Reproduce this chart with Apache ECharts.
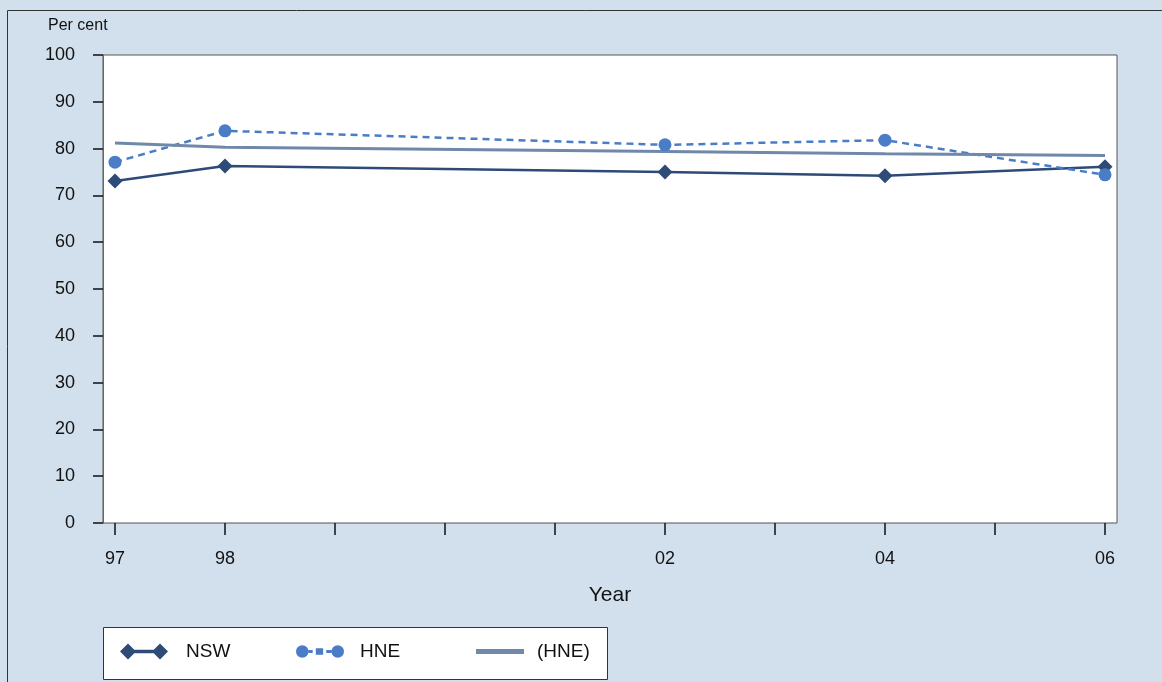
<!DOCTYPE html>
<html><head><meta charset="utf-8">
<script src="https://cdn.jsdelivr.net/npm/echarts@6/dist/echarts.min.js"></script>
<style>html,body{margin:0;padding:0;background:#d2dfec;}#c{width:1162px;height:682px;}</style>
</head><body><div id="c"></div>
<script>
const years = [1997, 1998, 2002, 2004, 2006];
const nsw = [73.1, 76.3, 75.0, 74.2, 76.1];
const hne = [77.1, 83.8, 80.8, 81.8, 74.4];
const hneTrend = [81.2, 80.3, 79.4, 78.9, 78.5];
const seriesNames = ['NSW', 'HNE', '(HNE)'];
const labelYears = [1997, 1998, 2002, 2004, 2006];

const zip = v => years.map((y, i) => [y, v[i]]);
const font = "'Liberation Sans', Arial, sans-serif";
const icons = [
  'path://M0,8L8,0L16,8L8,16Z M32,8L40,0L48,8L40,16Z M8,6.2H40V9.8H8Z',
  'path://M1,8A6,6 0 1 0 13,8A6,6 0 1 0 1,8Z M35,8A6,6 0 1 0 47,8A6,6 0 1 0 35,8Z M13,6.5H17V9.5H13Z M20,5H27V11H20Z M30,6.5H35V9.5H30Z',
  'path://M0,5.5H48V10.5H0Z'
];
const legendLefts = [120, 296, 476];
const legendTextPad = [13, 11, 8];
const legends = seriesNames.map((n, i) => ({
  left: legendLefts[i], top: 642, padding: 0, itemWidth: 48, itemHeight: 16,
  textStyle: { fontFamily: font, fontSize: 19, color: '#111', padding: [0, 0, 0, legendTextPad[i]] },
  data: [{ name: n, icon: icons[i] }]
}));
const chart = echarts.init(document.getElementById('c'));
chart.setOption({
  backgroundColor: '#d2dfec',
  animation: false,
  title: { text: 'Per cent', left: 43, top: 13, textStyle: { fontFamily: font, fontSize: 16, fontWeight: 'normal', color: '#111' } },
  graphic: [
    { type: 'rect', shape: { x: 7.5, y: 10.5, width: 1170, height: 690 }, style: { fill: 'none', stroke: '#333', lineWidth: 1 }, z: -1 },
    { type: 'rect', shape: { x: 103.5, y: 627.5, width: 504, height: 52 }, style: { fill: '#fff', stroke: '#333', lineWidth: 1 }, z: -1 }
  ],
  grid: [
    { left: 103, right: 45, top: 55, bottom: 159, show: true, backgroundColor: '#fff', borderColor: '#555', borderWidth: 1 },
    { left: 115, right: 57, top: 55, bottom: 159 }
  ],
  xAxis: [
    { gridIndex: 0, type: 'value', show: false, min: 0, max: 1 },
    { gridIndex: 1, type: 'value', min: 1997, max: 2006, interval: 1,
      name: 'Year', nameLocation: 'middle', nameGap: 62,
      nameTextStyle: { fontFamily: font, fontSize: 21, color: '#111' },
      axisLine: { show: false },
      axisTick: { show: true, length: 12, lineStyle: { color: '#111', width: 1.5 } },
      splitLine: { show: false },
      axisLabel: { margin: 27, fontFamily: font, fontSize: 18, color: '#111',
        formatter: v => labelYears.includes(v) ? String(v % 100).padStart(2, '0') : '' } }
  ],
  yAxis: [
    { gridIndex: 0, type: 'value', show: false, min: 0, max: 1 },
    { gridIndex: 1, type: 'value', min: 0, max: 100, interval: 10, offset: 12,
      axisLine: { show: true, lineStyle: { color: '#666' } },
      axisTick: { show: true, length: 10, lineStyle: { color: '#111', width: 1.5 } },
      splitLine: { show: false },
      axisLabel: { margin: 28, fontFamily: font, fontSize: 18, color: '#111' } }
  ],
  legend: legends,
  series: [
    { name: seriesNames[0], type: 'line', xAxisIndex: 1, yAxisIndex: 1, data: zip(nsw),
      symbol: 'diamond', symbolSize: 15, color: '#2d4b76',
      lineStyle: { width: 2.5, color: '#2d4b76' }, itemStyle: { color: '#2d4b76' } },
    { name: seriesNames[1], type: 'line', xAxisIndex: 1, yAxisIndex: 1, data: zip(hne),
      symbol: 'circle', symbolSize: 13, color: '#4a7dc6',
      lineStyle: { width: 2.5, type: [7, 5], color: '#4a7dc6' }, itemStyle: { color: '#4a7dc6' } },
    { name: seriesNames[2], type: 'line', xAxisIndex: 1, yAxisIndex: 1, data: zip(hneTrend),
      symbol: 'none', color: '#7089aa',
      lineStyle: { width: 3, color: '#7089aa' } }
  ]
});
</script></body></html>
